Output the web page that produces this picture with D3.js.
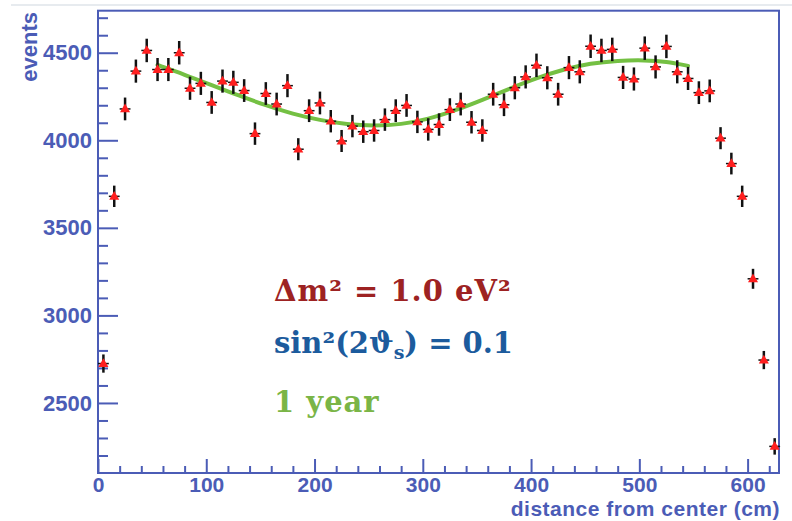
<!DOCTYPE html>
<html>
<head>
<meta charset="utf-8">
<script src="https://cdn.jsdelivr.net/npm/d3@7/dist/d3.min.js"></script>
<style>
  html, body { margin: 0; padding: 0; background: #ffffff; }
  svg { display: block; }
</style>
</head>
<body>
<svg id="chart" width="792" height="521"></svg>
<script>
// ---- data ----
const distances = [5,15,25,35,45,55,65,75,85,95,105,115,125,135,145,155,165,175,185,195,
  205,215,225,235,245,255,265,275,285,295,305,315,325,335,345,355,365,375,385,395,
  405,415,425,435,445,455,465,475,485,495,505,515,525,535,545,555,565,575,585,595,
  605,615,625];
const events = [2725,3680,4179,4395,4513,4404,4404,4500,4297,4325,4216,4338,4331,4284,4038,4267,4207,4312,3949,4169,
  4213,4109,3996,4081,4049,4056,4118,4169,4199,4105,4062,4090,4175,4207,4103,4056,4263,4203,4300,4362,
  4428,4357,4263,4415,4391,4537,4513,4519,4359,4350,4526,4419,4536,4391,4353,4272,4282,4012,3867,3680,
  3209,2745,2252];
const errors = [52,61,65,66,67,66,66,67,66,66,65,66,66,65,64,65,65,66,63,65,
  65,64,63,64,64,64,64,65,65,64,64,64,65,65,64,64,65,65,66,66,
  67,66,65,66,66,67,67,67,66,66,67,66,67,66,66,65,65,63,62,61,
  57,52,47];
const binHalfWidth = 5;
// fitted oscillation curve
const fitX = [55,80,105,130,155,180,205,230,255,280,305,330,355,380,405,430,455,480,505,525,545];
const fitY = [4430,4375,4315,4255,4200,4150,4115,4090,4082,4090,4120,4170,4230,4295,4355,4405,4440,4455,4458,4450,4425];
const xMajorTicks = [0,100,200,300,400,500,600];
const xMinorTicks = [20,40,60,80,120,140,160,180,220,240,260,280,320,340,360,380,420,440,460,480,520,540,560,580,620];
const yMajorTicks = [2500,3000,3500,4000,4500];
const yMinorTicks = [2200,2300,2400,2600,2700,2800,2900,3100,3200,3300,3400,3600,3700,3800,3900,4100,4200,4300,4400,4600,4700];
const xTitle = "distance from center (cm)";
const yTitle = "events";

// ---- drawing ----
const svg = d3.select("#chart");
const axisColor = "#4b5cb6";
const labelFont = "'Liberation Sans', Arial, Helvetica, sans-serif";

const x = d3.scaleLinear().domain([0, 629]).range([98, 779]);
const y = d3.scaleLinear().domain([2100, 4740]).range([473, 10.7]);

// faint slide line at top
svg.append("line").attr("x1", 11).attr("x2", 792).attr("y1", 5).attr("y2", 5)
  .attr("stroke", "#dfe4ea").attr("stroke-width", 1.5);

// x axis
const gx = svg.append("g").attr("transform", `translate(0,${y.range()[0]})`);
gx.call(d3.axisBottom(x).tickValues(xMajorTicks).tickSizeInner(-14).tickSizeOuter(0).tickPadding(4.5).tickFormat(d3.format("d")));
const gxm = svg.append("g").attr("transform", `translate(0,${y.range()[0]})`);
gxm.call(d3.axisBottom(x).tickValues(xMinorTicks).tickSizeInner(-7).tickSizeOuter(0).tickFormat(""));

// y axis
const gy = svg.append("g").attr("transform", `translate(${x.range()[0]},0)`);
gy.call(d3.axisLeft(y).tickValues(yMajorTicks).tickSizeInner(-20).tickSizeOuter(0).tickPadding(6).tickFormat(d3.format("d")));
const gym = svg.append("g").attr("transform", `translate(${x.range()[0]},0)`);
gym.call(d3.axisLeft(y).tickValues(yMinorTicks).tickSizeInner(-10).tickSizeOuter(0).tickFormat(""));

[gx, gxm, gy, gym].forEach(g => {
  g.select(".domain").remove();
  g.selectAll(".tick line").attr("stroke", axisColor).attr("stroke-width", 2);
  g.selectAll(".tick text").attr("fill", axisColor)
    .style("font-family", labelFont).style("font-size", "21px").style("font-weight", "bold");
});
gy.selectAll(".tick text").style("font-size", "22px");

// frame
svg.append("rect")
  .attr("x", x.range()[0]).attr("y", y.range()[1])
  .attr("width", x.range()[1] - x.range()[0]).attr("height", y.range()[0] - y.range()[1])
  .attr("fill", "none").attr("stroke", axisColor).attr("stroke-width", 2);

// axis titles
svg.append("text").text(xTitle)
  .attr("x", 780).attr("y", 516).attr("text-anchor", "end")
  .attr("fill", axisColor).style("font-family", labelFont).style("font-size", "21px").style("font-weight", "bold")
  .style("letter-spacing", "0.5px");
svg.append("text").text(yTitle)
  .attr("transform", "translate(37,12) rotate(-90)").attr("text-anchor", "end")
  .attr("fill", axisColor).style("font-family", labelFont).style("font-size", "22px").style("font-weight", "bold");

// fit curve
const fitData = fitX.map((d, i) => [d, fitY[i]]);
svg.append("path").datum(fitData)
  .attr("fill", "none").attr("stroke", "#74c043").attr("stroke-width", 4)
  .attr("stroke-linecap", "round")
  .attr("d", d3.line().x(d => x(d[0])).y(d => y(d[1])).curve(d3.curveBasis));

// data points
const pts = distances.map((d, i) => ({ d, v: events[i], e: errors[i] }));
const gp = svg.append("g");
gp.selectAll("line.h").data(pts).join("line").attr("class", "h")
  .attr("x1", p => x(p.d - binHalfWidth)).attr("x2", p => x(p.d + binHalfWidth))
  .attr("y1", p => y(p.v)).attr("y2", p => y(p.v))
  .attr("stroke", "#111").attr("stroke-width", 1.5);
gp.selectAll("line.v").data(pts).join("line").attr("class", "v")
  .attr("x1", p => x(p.d)).attr("x2", p => x(p.d))
  .attr("y1", p => y(p.v - p.e)).attr("y2", p => y(p.v + p.e))
  .attr("stroke", "#111").attr("stroke-width", 2.5);
gp.selectAll("path.m").data(pts).join("path").attr("class", "m")
  .attr("transform", p => `translate(${x(p.d)},${y(p.v) + 0.5})`)
  .attr("d", d3.symbol(d3.symbolTriangle, 44))
  .attr("fill", "#ff1f1f");

// annotations
const serif = "'DejaVu Serif', 'Liberation Serif', serif";
svg.append("text").attr("x", 274).attr("y", 301)
  .attr("fill", "#9d2222").style("font-family", serif).style("font-size", "29px").style("font-weight", "bold")
  .style("letter-spacing", "1px")
  .text("Δm² = 1.0 eV²");
const t2 = svg.append("text").attr("x", 274).attr("y", 353)
  .attr("fill", "#1c5b9d").style("font-family", serif).style("font-size", "29px").style("font-weight", "bold");
t2.append("tspan").text("sin²(2ϑ");
t2.append("tspan").text("s").attr("dy", 6).style("font-size", "19px");
t2.append("tspan").text(") = 0.1").attr("dy", -6);
svg.append("text").attr("x", 274).attr("y", 412)
  .attr("fill", "#7ab546").style("font-family", serif).style("font-size", "29px").style("font-weight", "bold")
  .style("letter-spacing", "1px")
  .text("1 year");
</script>
</body>
</html>
